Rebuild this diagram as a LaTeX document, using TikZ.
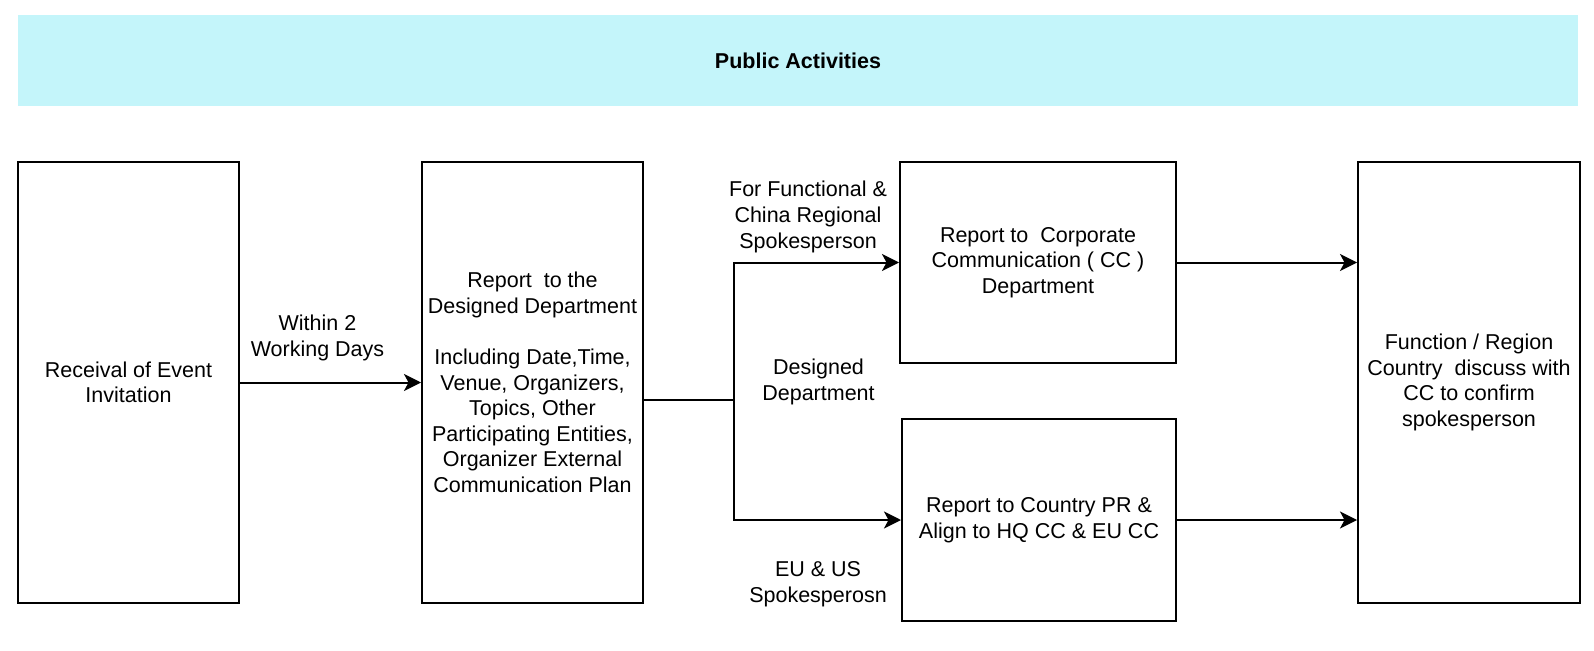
\documentclass[tikz,border=0pt]{standalone}
\usepackage{fontspec}
\setmainfont{Liberation Sans}
\usetikzlibrary{arrows.meta}
\definecolor{banner}{HTML}{C4F5FA}
\tikzset{
  box/.style={draw=black, line width=2pt, align=center, inner sep=2pt},
  lbl/.style={align=center, inner sep=0pt},
  conn/.style={line width=2pt},
  arr/.style={conn, -{Stealth[length=17pt,width=17pt,inset=4.5pt]}},
  every node/.style={font=\fontsize{21.5}{25.6}\selectfont}
}
\begin{document}
\begin{tikzpicture}[x=1pt,y=-1pt]
\useasboundingbox (0,0) rectangle (1594,650);
\fill[banner] (18,15) rectangle (1578,106);
\node[lbl, font=\fontsize{21.5}{25.6}\selectfont\bfseries] (title) at (798,61) {Public Activities};

\node[box, minimum width=221pt, minimum height=441pt] (b1) at (128.5,382.5) {Receival of Event\\Invitation};
\node[box, minimum width=221pt, minimum height=441pt] (b2) at (532.5,382.5) {Report\ \ to the\\Designed Department\\[25.6pt]Including Date,Time,\\Venue, Organizers,\\Topics, Other\\Participating Entities,\\Organizer External\\Communication Plan};
\node[box, minimum width=276pt, minimum height=201pt] (b3) at (1038,262.5) {Report to\ \ Corporate\\Communication ( CC )\\Department};
\node[box, minimum width=274pt, minimum height=202pt] (b4) at (1039,520) {Report to Country PR \&\\Align to HQ CC \& EU CC};
\node[box, minimum width=222pt, minimum height=441pt] (b5) at (1469,382.5) {Function / Region\\Country\ \ discuss with\\CC to confirm\\spokesperson};

\node[lbl] (l1) at (317.5,338) {Within 2\\Working Days};
\node[lbl] (l2) at (808,217) {For Functional \&\\China Regional\\Spokesperson};
\node[lbl] (l3) at (818.5,382) {Designed\\Department};
\node[lbl] (l4) at (818,584) {EU \& US\\Spokesperosn};

\coordinate (j) at (734,400);
\draw[arr] (b1) -- (b2);
\draw[conn] (b2.east |- j) -- (j);
\draw[arr] (j) |- (b3);
\draw[arr] (j) |- (b4);
\draw[arr] (b3.east) -- (b5.west |- b3.east);
\draw[arr] (b4.east) -- (b5.west |- b4.east);
\end{tikzpicture}
\end{document}
